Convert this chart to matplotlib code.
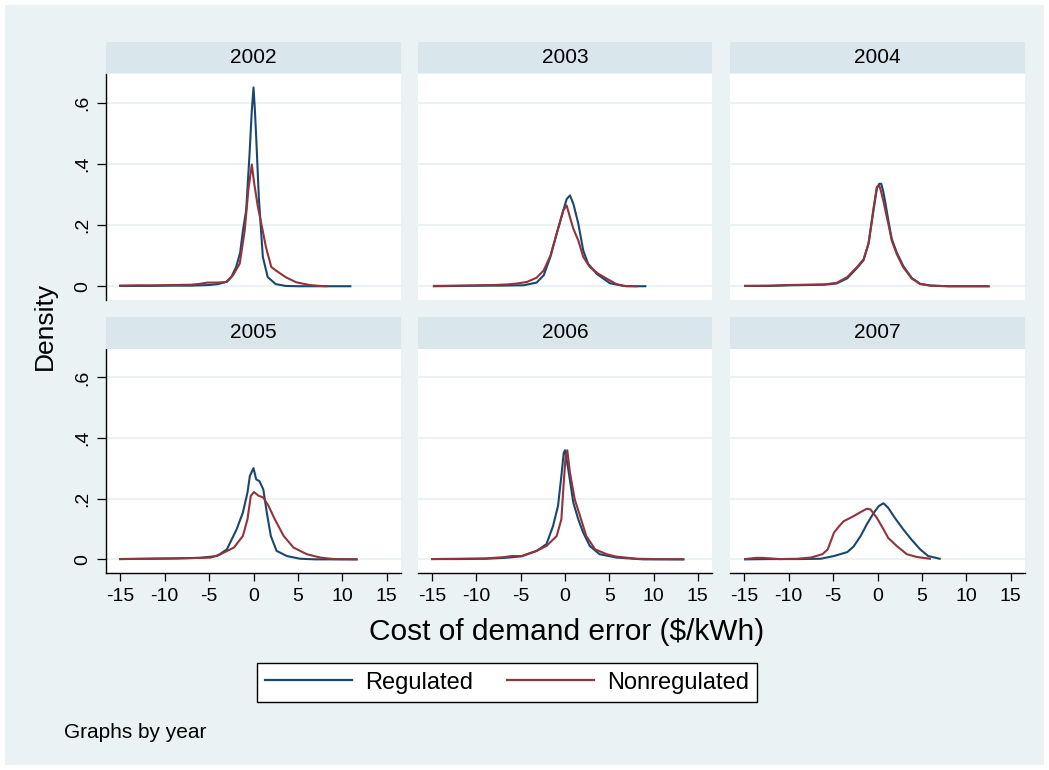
import matplotlib
matplotlib.use("Agg")
import matplotlib.pyplot as plt
from matplotlib.patches import Rectangle
from matplotlib.lines import Line2D

plt.rcParams['font.family'] = ['Liberation Sans', 'DejaVu Sans']

years = ["2002", "2003", "2004", "2005", "2006", "2007"]
series_names = ["Regulated", "Nonregulated"]
x_ticks = [-15, -10, -5, 0, 5, 10, 15]
y_ticks = [0, 0.2, 0.4, 0.6]
y_tick_labels = ["0", ".2", ".4", ".6"]

x_reg_2002 = [-15, -12, -9, -7, -5, -4, -3.1, -2.5, -1.95, -1.5, -1.2, -0.82, -0.45, -0.2, 0, 0.15, 0.3, 0.6, 1.05, 1.6, 2.5, 3.6, 5, 7, 9, 10.9]
y_reg_2002 = [0.001, 0.001, 0.002, 0.002, 0.004, 0.007, 0.014, 0.03, 0.063, 0.11, 0.18, 0.25, 0.43, 0.57, 0.65, 0.58, 0.49, 0.29, 0.096, 0.03, 0.007, 0.001, 0, 0, 0, 0]
x_non_2002 = [-15, -13, -11, -9, -7, -6, -5.2, -4, -3.0, -2.3, -1.55, -1.0, -0.56, -0.19, 0.11, 0.49, 1.05, 1.4, 2.0, 2.5, 3.0, 3.6, 4.8, 6.3, 7.5, 8.2]
y_non_2002 = [0.002, 0.003, 0.003, 0.004, 0.005, 0.008, 0.012, 0.012, 0.014, 0.036, 0.074, 0.18, 0.32, 0.398, 0.33, 0.26, 0.18, 0.128, 0.063, 0.052, 0.042, 0.03, 0.013, 0.004, 0.001, 0.0]

x_reg_2003 = [-14.8, -12, -9, -7, -5.5, -4.7, -3.2, -2.4, -1.65, -0.94, -0.19, 0.19, 0.56, 0.94, 1.5, 2.06, 2.6, 3.56, 5.06, 6.6, 8, 9.07]
y_reg_2003 = [0, 0.001, 0.002, 0.002, 0.003, 0.003, 0.012, 0.036, 0.096, 0.172, 0.248, 0.285, 0.297, 0.27, 0.205, 0.117, 0.074, 0.041, 0.01, 0.001, 0, 0]
x_non_2003 = [-14.8, -12, -10, -8, -6.5, -5.4, -4.3, -3.2, -2.4, -1.65, -0.94, -0.19, 0.19, 0.56, 0.94, 1.5, 2.06, 2.8, 3.75, 4.7, 5.8, 6.9, 8.1]
y_non_2003 = [0.001, 0.002, 0.003, 0.004, 0.006, 0.009, 0.014, 0.028, 0.052, 0.10, 0.172, 0.248, 0.264, 0.226, 0.188, 0.15, 0.096, 0.063, 0.041, 0.025, 0.007, 0.0, 0.0]

x_reg_2004 = [-14.9, -12, -10, -8, -6, -4.6, -3.4, -2.3, -1.57, -1.01, -0.45, -0.07, 0.2, 0.42, 0.65, 0.87, 1.25, 1.6, 2.17, 2.9, 3.86, 4.8, 6, 8, 10, 12.5]
y_reg_2004 = [0.001, 0.001, 0.003, 0.004, 0.005, 0.009, 0.026, 0.06, 0.085, 0.139, 0.248, 0.32, 0.335, 0.335, 0.31, 0.275, 0.21, 0.155, 0.11, 0.066, 0.027, 0.008, 0.002, 0, 0, 0]
x_non_2004 = [-14.9, -12, -10, -8, -6, -4.6, -3.4, -2.3, -1.57, -1.01, -0.45, -0.07, 0.19, 0.4, 0.65, 0.87, 1.25, 1.6, 2.17, 2.9, 3.86, 4.8, 6, 8, 10, 12.5]
y_non_2004 = [0.001, 0.002, 0.004, 0.005, 0.006, 0.011, 0.03, 0.063, 0.088, 0.14, 0.255, 0.325, 0.33, 0.31, 0.28, 0.25, 0.2, 0.15, 0.105, 0.062, 0.025, 0.007, 0.002, 0, 0, 0]

x_reg_2005 = [-15, -12, -9, -6, -4.1, -3.0, -1.9, -1.2, -0.68, -0.41, 0, 0.3, 0.67, 1.1, 1.5, 1.95, 2.6, 3.75, 5.25, 7, 9, 11.6]
y_reg_2005 = [0.001, 0.002, 0.003, 0.005, 0.011, 0.033, 0.099, 0.154, 0.22, 0.275, 0.301, 0.264, 0.258, 0.231, 0.154, 0.077, 0.028, 0.011, 0.002, 0, 0, 0]
x_non_2005 = [-15, -12, -9, -6, -4.8, -3.7, -2.2, -1.2, -0.68, -0.3, 0.06, 0.56, 1.1, 1.7, 2.4, 3.4, 4.5, 6.0, 7.5, 9, 11.6]
y_non_2005 = [0.001, 0.002, 0.003, 0.005, 0.006, 0.017, 0.039, 0.077, 0.132, 0.21, 0.222, 0.21, 0.204, 0.176, 0.132, 0.077, 0.039, 0.017, 0.006, 0.001, 0]

x_reg_2006 = [-15, -12, -9, -6.8, -4.9, -3.2, -2.1, -1.35, -0.79, -0.41, -0.15, 0, 0.37, 0.94, 1.5, 2.06, 2.8, 3.9, 5.8, 8.8, 11, 13.3]
y_reg_2006 = [0.001, 0.001, 0.002, 0.005, 0.01, 0.028, 0.05, 0.11, 0.176, 0.275, 0.35, 0.36, 0.297, 0.187, 0.132, 0.088, 0.044, 0.017, 0.006, 0, 0, 0]
x_non_2006 = [-15, -12, -9, -7, -6, -4.9, -3.2, -2.1, -0.94, -0.41, -0.15, 0.07, 0.26, 0.56, 1.1, 1.7, 2.4, 3.4, 4.7, 5.8, 8.1, 10, 13.4]
y_non_2006 = [0.001, 0.002, 0.003, 0.007, 0.011, 0.011, 0.028, 0.044, 0.077, 0.132, 0.25, 0.34, 0.36, 0.286, 0.198, 0.143, 0.077, 0.033, 0.017, 0.009, 0.002, 0.001, 0]

x_reg_2007 = [-14.9, -12, -9, -6.4, -4.9, -3.4, -2.7, -1.9, -1.2, -0.41, 0.15, 0.68, 1.2, 1.95, 2.9, 3.8, 4.8, 5.7, 7.0]
y_reg_2007 = [0, 0.001, 0.001, 0.002, 0.011, 0.024, 0.042, 0.077, 0.116, 0.154, 0.176, 0.185, 0.17, 0.137, 0.099, 0.066, 0.033, 0.011, 0.002]
x_non_2007 = [-14.9, -13.6, -13, -11, -9, -7.5, -6.2, -5.6, -4.9, -4.3, -3.8, -2.85, -1.9, -1.2, -0.8, -0.07, 0.68, 1.2, 2.17, 3.3, 4.4, 5.9]
y_non_2007 = [0.001, 0.005, 0.005, 0.001, 0.002, 0.006, 0.017, 0.033, 0.088, 0.11, 0.126, 0.14, 0.156, 0.167, 0.165, 0.137, 0.099, 0.071, 0.044, 0.017, 0.008, 0.002]

reg_data = {
    "2002": (x_reg_2002, y_reg_2002), "2003": (x_reg_2003, y_reg_2003),
    "2004": (x_reg_2004, y_reg_2004), "2005": (x_reg_2005, y_reg_2005),
    "2006": (x_reg_2006, y_reg_2006), "2007": (x_reg_2007, y_reg_2007),
}
non_data = {
    "2002": (x_non_2002, y_non_2002), "2003": (x_non_2003, y_non_2003),
    "2004": (x_non_2004, y_non_2004), "2005": (x_non_2005, y_non_2005),
    "2006": (x_non_2006, y_non_2006), "2007": (x_non_2007, y_non_2007),
}

W, H = 1049, 770
BLUE = '#1A476F'
RED = '#90353B'
OUTER = '#EAF2F3'
STRIP = '#D9E6EB'

fig = plt.figure(figsize=(W / 100, H / 100), dpi=100)
fig.patch.set_facecolor('white')
fig.patches.append(Rectangle((5 / W, 5 / H), (W - 10) / W, (H - 10) / H,
                             transform=fig.transFigure, facecolor=OUTER,
                             edgecolor='none', zorder=-10))


def fbox(x0, y0, x1, y1):
    return [x0 / W, 1 - y1 / H, (x1 - x0) / W, (y1 - y0) / H]


cols = [(106, 401), (418, 712), (730, 1025)]
rows = [((42, 73), (74, 300)), ((317, 349), (349, 573))]

for i, yr in enumerate(years):
    r, c = divmod(i, 3)
    (sy0, sy1), (py0, py1) = rows[r]
    cx0, cx1 = cols[c]
    ax = fig.add_axes(fbox(cx0, py0, cx1, py1))
    ax.set_facecolor('white')
    sax = fig.add_axes(fbox(cx0, sy0, cx1, sy1))
    sax.set_facecolor(STRIP)
    sax.set_xticks([]); sax.set_yticks([])
    for s in sax.spines.values():
        s.set_visible(False)
    sax.text(0.5, 0.5, yr, ha='center', va='center', fontsize=15,
             transform=sax.transAxes)

    ax.set_xlim(-16.6, 16.6)
    ax.set_ylim(-0.045, 0.694)
    for yt in y_ticks:
        ax.axhline(yt, color=OUTER, lw=1.5, zorder=0)
    xr, yrg = reg_data[yr]
    xn, yn = non_data[yr]
    ax.plot(xr, yrg, color=BLUE, lw=1.5, zorder=3)
    ax.plot(xn, yn, color=RED, lw=1.5, zorder=3)

    for s in ax.spines.values():
        s.set_visible(False)
    ax.set_xticks(x_ticks)
    ax.set_yticks(y_ticks)
    if c == 0:
        ax.spines['left'].set_visible(True)
        ax.spines['left'].set_linewidth(1.0)
        ax.set_yticklabels(y_tick_labels, rotation=90, va='center', fontsize=14)
        ax.tick_params(axis='y', direction='out', length=6.5, width=0.9, pad=4)
    else:
        ax.tick_params(axis='y', left=False, labelleft=False)
    if r == 1:
        ax.spines['bottom'].set_visible(True)
        ax.spines['bottom'].set_linewidth(1.0)
        ax.set_xticklabels([str(t) for t in x_ticks], fontsize=14)
        ax.tick_params(axis='x', direction='out', length=6, width=0.9, pad=5)
    else:
        ax.tick_params(axis='x', bottom=False, labelbottom=False)

fig.text(567 / W, 1 - 632 / H, "Cost of demand error ($/kWh)", ha='center',
         va='center', fontsize=21.5)
fig.text(45 / W, 1 - 326 / H, "Density", ha='center', va='center',
         rotation=90, fontsize=19)
fig.text(64 / W, 1 - 732 / H, "Graphs by year", ha='left', va='center',
         fontsize=15)

handles = [Line2D([], [], color=BLUE, lw=1.6), Line2D([], [], color=RED, lw=1.6)]
leg = fig.legend(handles, series_names, loc='center', ncol=2,
                 bbox_to_anchor=(507 / W, 1 - 682.5 / H), fontsize=17,
                 frameon=True, fancybox=False, edgecolor='black',
                 facecolor='white', framealpha=1, handlelength=3.7,
                 handletextpad=0.55, columnspacing=1.4, borderpad=0.35)
leg.get_frame().set_linewidth(1.0)

fig.savefig("out.png", dpi=100, facecolor=fig.get_facecolor())
